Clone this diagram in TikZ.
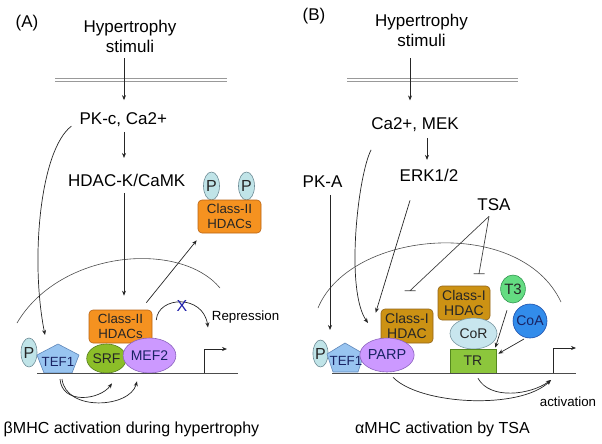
\documentclass[tikz,border=0pt]{standalone}
\usepackage{fontspec}
\setmainfont{Liberation Sans}
\usetikzlibrary{arrows.meta,shapes.geometric,calc}
\definecolor{orfill}{RGB}{245,146,32}
\definecolor{ordraw}{RGB}{185,100,20}
\definecolor{gofill}{RGB}{204,146,20}
\definecolor{godraw}{RGB}{145,100,25}
\definecolor{pfill}{RGB}{192,228,232}
\definecolor{pdraw}{RGB}{110,140,150}
\definecolor{tfill}{RGB}{152,196,240}
\definecolor{tdraw}{RGB}{95,135,185}
\definecolor{sfill}{RGB}{140,190,40}
\definecolor{sdraw}{RGB}{85,125,30}
\definecolor{mfill}{RGB}{204,153,255}
\definecolor{mdraw}{RGB}{140,100,190}
\definecolor{cfill}{RGB}{200,230,238}
\definecolor{cdraw}{RGB}{120,150,160}
\definecolor{trfill}{RGB}{140,198,60}
\definecolor{trdraw}{RGB}{85,135,30}
\definecolor{t3fill}{RGB}{100,220,130}
\definecolor{t3draw}{RGB}{50,150,80}
\definecolor{cafill}{RGB}{50,140,235}
\definecolor{cadraw}{RGB}{30,80,170}
\definecolor{navy}{RGB}{25,35,100}
\definecolor{xblue}{RGB}{30,30,170}
\begin{document}
\begin{tikzpicture}[x=1pt,y=-1pt,
  txt/.style={inner sep=0pt, anchor=base, font=\fontsize{17}{20}\selectfont},
  captxt/.style={inner sep=0pt, anchor=base, font=\fontsize{16}{18}\selectfont},
  smtxt/.style={inner sep=0pt, anchor=base, font=\fontsize{13.3}{15}\selectfont},
  arr/.style={-{Stealth[length=5pt,width=4pt]}, line width=0.7pt, draw=black!85},
  ln/.style={line width=0.7pt, draw=black!75},
  dline/.style={double=white, draw=black!40, line width=0.9pt, double distance=1.6pt},
  c2box/.style={draw=ordraw, fill=orfill, rounded corners=4pt, line width=0.6pt, inner sep=0pt,
    minimum width=63pt, minimum height=33pt, align=center, font=\fontsize{13.3}{15}\selectfont, text=black!85},
  c1box/.style={draw=godraw, fill=gofill, rounded corners=4pt, line width=0.6pt, inner sep=0pt,
    minimum width=52pt, minimum height=34pt, align=center, font=\fontsize{14}{15.5}\selectfont, text=black!85},
  pel/.style={ellipse, draw=pdraw, fill=pfill, line width=0.6pt, inner sep=0pt,
    minimum width=16pt, minimum height=28pt, font=\fontsize{16}{18}\selectfont, text=black!85},
  blob/.style={ellipse, line width=0.6pt, inner sep=0pt, font=\fontsize{14}{16}\selectfont},
  pent/.style={draw=tdraw, fill=tfill, line width=0.6pt, line join=round},
  pentxt/.style={inner sep=0pt, font=\fontsize{13.3}{15}\selectfont, text=navy}
]
\useasboundingbox (0,0) rectangle (602,444);

% ---------- nucleus arcs ----------
\draw[line width=0.6pt, draw=black!70] (17,323) .. controls (60,250) and (180,240) .. (220,288);
\draw[line width=0.6pt, draw=black!70] (318,308) .. controls (350,230) and (520,215) .. (561,302);

% ================= Panel A =================
\node[txt] (labA) at (27,28) {(A)};
\node[txt, align=center] (hypA) at (130,52.3) {Hypertrophy\\stimuli};
\draw[dline] (55,80) -- (227,80);
\node[txt] (pkA) at (123.3,124) {PK-c, Ca2+};
\node[txt] (hdk) at (126.7,186.5) {HDAC-K/CaMK};

\node[pel] (pA1) at (211.5,186) {P};
\node[pel] (pA2) at (246.5,186) {P};
\node[c2box] (c2a) at (229.5,216.5) {Class-II\\HDACs};

\node[c2box] (c2b) at (120.5,326.5) {Class-II\\HDACs};
\node[pel, minimum width=16pt, minimum height=29pt] (pA3) at (29,352.5) {P};
\draw[pent] (58,344) -- (79,355) -- (72,373) -- (44,373) -- (37,355) -- cycle;
\node[pentxt] (tefA) at (58,362) {TEF1};
\node[blob, draw=sdraw, fill=sfill, minimum width=35pt, minimum height=29pt, text=black!85] (srf) at (106.5,358.5) {SRF};
\node[blob, draw=mdraw, fill=mfill, minimum width=41pt, minimum height=35pt, text=navy] (mef) at (149.5,355.5) {MEF2};

\draw[line width=0.7pt, draw=black!70] (37,373) -- (238,373);
\coordinate (tssA) at (204,373);
\draw[arr] (tssA) -- ++(0,-24) -- ++(23,0);

% arrows A
\draw[arr, shorten <=5.7pt, shorten >=11.8pt] ([xshift=-6pt]hypA.south) -- ([xshift=0.7pt]pkA.north);
\draw[arr, shorten <=5.5pt, shorten >=16pt] ([xshift=0.7pt]pkA.south) -- ([xshift=-2.7pt]hdk.north);
\draw[arr, shorten <=6pt, shorten >=14pt] ([xshift=-2.7pt]hdk.south) -- ([xshift=3.5pt]c2b.north);
\draw[arr] ($(c2b.north east)+(-6,-7)$) -- ($(c2a.south west)+(-1,7)$);
\draw[arr] ($(pkA.west)+(-8,7)$) .. controls (40,150) and (30,260) .. ($(tefA)+(-13,-27)$);
\draw[arr] ($(tefA)+(2,17)$) .. controls (62,405) and (100,400) .. ($(srf.south)+(5.5,10)$);
\draw[arr] ($(tefA)+(4,17)$) .. controls (66,412) and (130,408) .. ($(mef.south)+(-12.5,8)$);

\node[smtxt, anchor=base west] (rep) at (211.7,320) {Repression};
\draw[arr] ($(c2b.east)+(4,-6.5)$) .. controls (158,296) and (203,294) .. ($(rep.south west)+(-3.7,4.5)$);
\node[inner sep=0pt, font=\fontsize{16}{18}\selectfont, text=xblue] (xA) at (182,305.5) {X};

\node[captxt] (capA) at (131.5,433) {βMHC activation during hypertrophy};

% ================= Panel B =================
\node[txt] (labB) at (314,20.7) {(B)};
\node[txt, align=center] (hypB) at (421.5,46.5) {Hypertrophy\\stimuli};
\draw[dline] (347,80) -- (518,80);
\node[txt] (caB) at (415,129.5) {Ca2+, MEK};
\node[txt] (erk) at (429,181) {ERK1/2};
\node[txt] (pkB) at (322.5,187.7) {PK-A};
\node[txt] (tsa) at (494,210) {TSA};

\node[pel, minimum width=15pt, minimum height=27pt] (pB) at (320.5,353.5) {P};
\draw[pent] (345,343) -- (364,354) -- (358,372) -- (333,372) -- (327,354) -- cycle;
\node[pentxt] (tefB) at (346,361) {TEF1};
\node[c1box] (c1a) at (407,326) {Class-I\\HDAC};
\node[blob, draw=mdraw, fill=mfill, minimum width=46pt, minimum height=34pt, text=navy, font=\fontsize{14.5}{16}\selectfont] (parp) at (387,355) {PARP};
\node[c1box] (c1b) at (464,303) {Class-I\\HDAC};
\node[blob, draw=cdraw, fill=cfill, minimum width=47pt, minimum height=31pt, text=black!85] (cor) at (473.5,333.5) {CoR};
\node[draw=trdraw, fill=trfill, line width=0.6pt, minimum width=46pt, minimum height=24pt, inner sep=0pt, font=\fontsize{14}{16}\selectfont, text=black!85] (tr) at (473,361) {TR};
\node[blob, draw=t3draw, fill=t3fill, minimum width=22pt, minimum height=28pt, text=black!85, font=\fontsize{15}{16}\selectfont] (t3) at (513,289) {T3};
\node[circle, draw=cadraw, fill=cafill, line width=0.6pt, minimum size=34pt, inner sep=0pt, text=navy, font=\fontsize{14}{16}\selectfont] (coa) at (530,321) {CoA};

\draw[line width=0.7pt, draw=black!70] (332,373) -- (576,373);
\coordinate (tssB) at (553,373);
\draw[arr] (tssB) -- ++(0,-25) -- ++(23,0);

% arrows B
\draw[arr, shorten <=11.5pt, shorten >=17pt] ([xshift=-11.5pt]hypB.south) -- ([xshift=-5pt]caB.north);
\draw[arr, shorten <=6pt, shorten >=8.6pt] ([xshift=12pt]caB.south) -- ([xshift=-2pt]erk.north);
\draw[arr] ($(pkB.south)+(7.5,7)$) -- ($(tefB)+(-16,-31)$);
\draw[arr] ($(caB.south west)+(0,18)$) .. controls (358,175) and (345,290) .. ($(parp)+(-19,-32)$);
\draw[arr] ($(erk.south)+(-19,19)$) -- ($(c1a.north west)+(-5,4)$);
\draw[ln] ($(tsa.south)+(-5,6)$) -- ($(c1a.north)+(3,-18)$) ++(-5.5,0) -- ++(11,0);
\draw[ln] ($(tsa.south)+(-5,6)$) -- ($(c1b.north)+(15,-12)$) ++(-5.5,0) -- ++(11,0);
\draw[arr] ($(t3.south)+(-6,7)$) -- ($(tr.north east)+(-1,-1)$);
\draw[arr] ($(coa)+(-6,18)$) -- ($(tr.north east)+(2,5)$);
\draw[arr] ($(parp.south)+(6,5)$) .. controls (420,405) and (520,410) .. ($(tssB)+(-2,7)$);
\draw[arr] ($(tr.south)+(5,5)$) .. controls (490,400) and (530,395) .. ($(tssB)+(-2,7)$);

\node[smtxt] (act) at (568,406) {activation};
\node[captxt] (capB) at (442.5,433) {αMHC activation by TSA};
\end{tikzpicture}
\end{document}
